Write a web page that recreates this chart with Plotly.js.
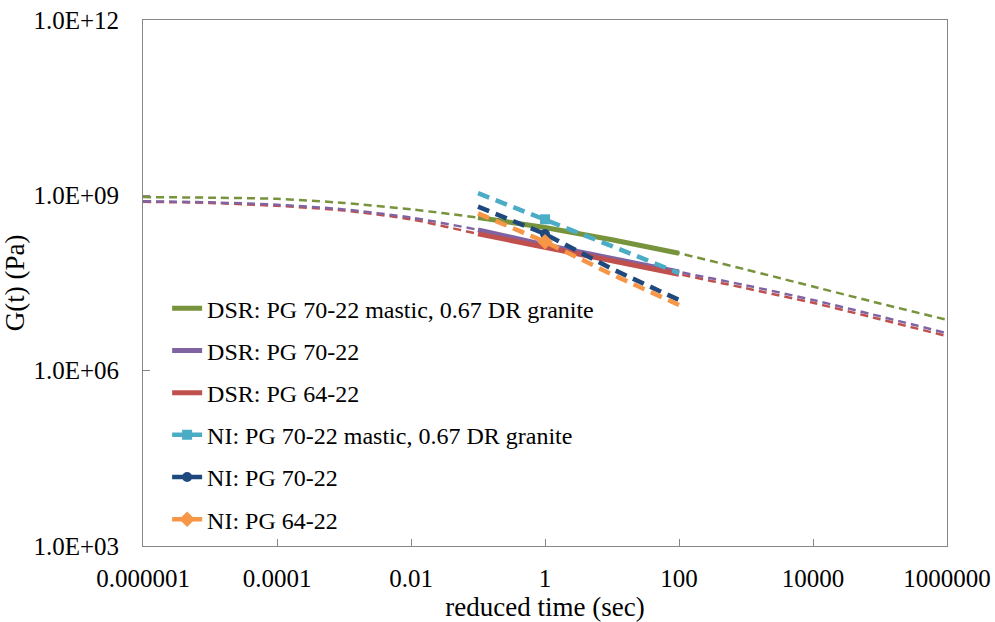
<!DOCTYPE html>
<html>
<head>
<meta charset="utf-8">
<script src="https://cdn.plot.ly/plotly-3.0.1.min.js"></script>
<style>
  html, body { margin: 0; padding: 0; background: #ffffff; }
</style>
</head>
<body>
<div id="chart" style="width:995px;height:622px"></div>
<script>
// Relaxation modulus G(t) in Pa against reduced time in seconds.

// Fitted master curves (thin dashed), one point per decade
const modelTime    = [1e-6, 1e-5, 1e-4, 1e-3, 1e-2, 1e-1, 1, 10, 100, 1e3, 1e4, 1e5, 1e6];
const modelMastic  = [9.33e8, 9.12e8, 8.71e8, 7.41e8, 5.75e8, 4.17e8, 2.82e8, 1.74e8, 1.02e8, 5.37e7, 2.75e7, 1.41e7, 7.41e6];
const modelPG7022  = [7.94e8, 7.59e8, 6.92e8, 5.75e8, 4.17e8, 2.57e8, 1.41e8, 8.32e7, 4.90e7, 2.88e7, 1.62e7, 8.51e6, 4.37e6];
const modelPG6422  = [7.76e8, 7.41e8, 6.61e8, 5.50e8, 3.89e8, 2.19e8, 1.29e8, 7.59e7, 4.47e7, 2.57e7, 1.45e7, 7.59e6, 3.89e6];

// DSR measurements (thick solid)
const dsrTime      = [0.1, 1, 10, 100];
const dsrMastic    = [4.17e8, 2.82e8, 1.74e8, 1.02e8];
const dsrPG7022    = [2.57e8, 1.41e8, 8.32e7, 4.90e7];
const dsrPG6422    = [2.19e8, 1.29e8, 7.59e7, 4.47e7];

// NI measurements (thick dashed); the marker sits on the 1 s point
const niTime       = [0.1, 1, 10, 100];
const niMastic     = [1.09e9, 3.89e8, 1.35e8, 4.68e7];
const niPG7022     = [6.40e8, 2.18e8, 5.50e7, 1.62e7];
const niPG6422     = [4.90e8, 1.61e8, 4.43e7, 1.33e7];
const niMarkerIndex = 1;

const seriesNames = [
  'DSR: PG 70-22 mastic, 0.67 DR granite',
  'DSR: PG 70-22',
  'DSR: PG 64-22',
  'NI: PG 70-22 mastic, 0.67 DR granite',
  'NI: PG 70-22',
  'NI: PG 64-22'
];

const xTickVals = [1e-6, 1e-4, 1e-2, 1, 100, 1e4, 1e6];
const xTickText = ['0.000001', '0.0001', '0.01', '1', '100', '10000', '1000000'];
const yTickVals = [1e3, 1e6, 1e9, 1e12];
const yTickText = ['1.0E+03', '1.0E+06', '1.0E+09', '1.0E+12'];

const GREEN = '#77933C', PURPLE = '#8064A2', RED = '#C0504D';
const CYAN = '#4BACC6', NAVY = '#1F497D', ORANGE = '#F79646';

function modelTrace(y, color) {
  return { x: modelTime, y: y, mode: 'lines', showlegend: false, hoverinfo: 'skip',
           line: { color: color, width: 2.5, dash: '8px,5px', shape: 'spline', smoothing: 0.6 } };
}
function dsrTrace(y, color, name) {
  return { x: dsrTime, y: y, mode: 'lines', name: name,
           line: { color: color, width: 5 } };
}
function niLine(y, color, group) {
  return { x: niTime, y: y, mode: 'lines', showlegend: false, legendgroup: group,
           line: { color: color, width: 4.5, dash: '12px,7px' } };
}
function niMarker(y, color, name, symbol, size, group) {
  return { x: [niTime[niMarkerIndex]], y: [y[niMarkerIndex]], mode: 'lines+markers',
           name: name, legendgroup: group,
           line: { color: color, width: 4.5 },
           marker: { color: color, symbol: symbol, size: size } };
}

const traces = [
  modelTrace(modelPG6422, RED),
  modelTrace(modelPG7022, PURPLE),
  modelTrace(modelMastic, GREEN),
  dsrTrace(dsrMastic, GREEN, seriesNames[0]),
  dsrTrace(dsrPG7022, PURPLE, seriesNames[1]),
  dsrTrace(dsrPG6422, RED, seriesNames[2]),
  niLine(niMastic, CYAN, 'niA'),
  niMarker(niMastic, CYAN, seriesNames[3], 'square', 10, 'niA'),
  niLine(niPG7022, NAVY, 'niB'),
  niMarker(niPG7022, NAVY, seriesNames[4], 'circle', 10, 'niB'),
  niLine(niPG6422, ORANGE, 'niC'),
  niMarker(niPG6422, ORANGE, seriesNames[5], 'diamond', 12, 'niC')
];

const layout = {
  width: 995, height: 622,
  margin: { l: 143, r: 48, t: 20, b: 76 },
  font: { family: 'Times New Roman', size: 24, color: '#000000' },
  showlegend: true,
  legend: {
    x: 0.03, y: 0.494, xanchor: 'left', yanchor: 'top',
    bgcolor: 'rgba(0,0,0,0)', borderwidth: 0,
    font: { family: 'Times New Roman', size: 24, color: '#000000' },
    tracegroupgap: 8
  },
  xaxis: {
    type: 'log', range: [-6, 6],
    tickvals: xTickVals, ticktext: xTickText,
    ticks: 'inside', ticklen: 7, tickcolor: '#868686', tickwidth: 1,
    showline: true, linecolor: '#868686', linewidth: 1, mirror: true,
    showgrid: false, zeroline: false,
    ticklabelstandoff: 10,
    tickfont: { family: 'Times New Roman', size: 25, color: '#000000' },
    title: { text: 'reduced time (sec)', font: { family: 'Times New Roman', size: 27, color: '#000000' }, standoff: 6 }
  },
  yaxis: {
    type: 'log', range: [3, 12],
    tickvals: yTickVals, ticktext: yTickText,
    ticks: 'inside', ticklen: 7, tickcolor: '#868686', tickwidth: 1,
    showline: true, linecolor: '#868686', linewidth: 1, mirror: true,
    showgrid: false, zeroline: false,
    ticklabelstandoff: 18,
    tickfont: { family: 'Times New Roman', size: 25, color: '#000000' },
    title: { text: 'G(t) (Pa)', font: { family: 'Times New Roman', size: 27, color: '#000000' }, standoff: 6 }
  }
};

Plotly.newPlot('chart', traces, layout, { staticPlot: true });
</script>
</body>
</html>
